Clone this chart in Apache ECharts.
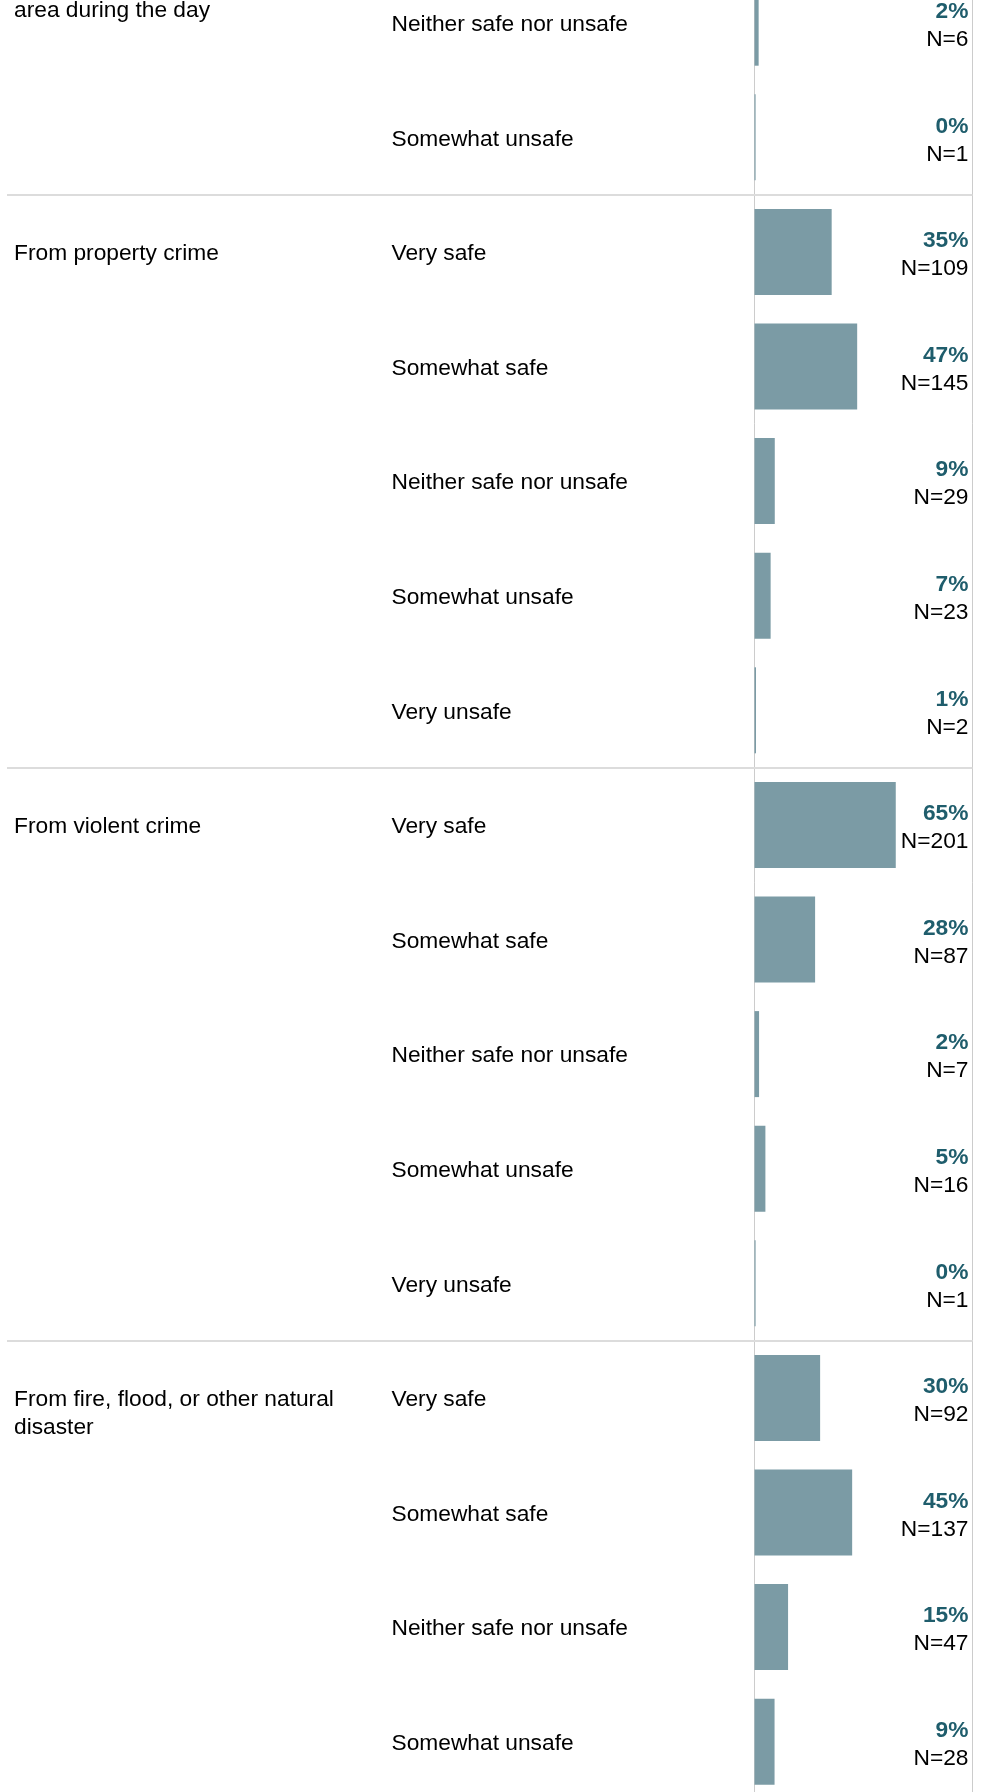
<!DOCTYPE html>
<html>
<head>
<meta charset="utf-8">
<script src="https://cdn.jsdelivr.net/npm/echarts@6/dist/echarts.min.js"></script>
<style>
html,body{margin:0;padding:0;background:#ffffff;overflow:hidden;width:987px;height:1792px;}
#chart{position:absolute;left:0;top:-35px;width:987px;height:1834px;}
</style>
</head>
<body>
<div id="chart"></div>
<script>
// Response rows (top to bottom, visible part of the chart)
const responses = [
  'Neither safe nor unsafe', 'Somewhat unsafe',
  'Very safe', 'Somewhat safe', 'Neither safe nor unsafe', 'Somewhat unsafe', 'Very unsafe',
  'Very safe', 'Somewhat safe', 'Neither safe nor unsafe', 'Somewhat unsafe', 'Very unsafe',
  'Very safe', 'Somewhat safe', 'Neither safe nor unsafe', 'Somewhat unsafe'
];
// Bar lengths (share of respondents, %)
const shares = [
  1.9, 0.5,
  35.4, 47.1, 9.3, 7.4, 0.7,
  64.8, 27.8, 2.1, 5.0, 0.5,
  30.1, 44.8, 15.4, 9.2
];
// Printed percentage labels
const pctLabels = [
  '2%', '0%',
  '35%', '47%', '9%', '7%', '1%',
  '65%', '28%', '2%', '5%', '0%',
  '30%', '45%', '15%', '9%'
];
// Printed counts
const counts = [
  6, 1,
  109, 145, 29, 23, 2,
  201, 87, 7, 16, 1,
  92, 137, 47, 28
];
// Group labels and the row on which each group starts
const groupNames = [
  'area during the day',
  'From property crime',
  'From violent crime',
  'From fire, flood, or other natural disaster'
];
const groupStartRows = [0, 2, 7, 12];
const groupContinued = [true, false, false, false]; // first group's label begins above the visible area

const FONT = '"Liberation Sans", Arial, Helvetica, sans-serif';
const FS = 22.75;
const LH = 28;
const TEXT_SHIFT = 2;
const BAR_COLOR = '#7b9ba5';
const PCT_COLOR = '#1f5d6c';
const TEXT_COLOR = '#000000';

const chart = echarts.init(document.getElementById('chart'), null, {renderer: 'canvas'});

const option = {
  animation: false,
  backgroundColor: '#ffffff',
  grid: {
    left: 754.5, right: 14.5, top: 0.4, bottom: 0,
    show: true, borderColor: '#cccccc', borderWidth: 1, backgroundColor: 'transparent'
  },
  xAxis: {
    type: 'value', min: 0, max: 100, show: false
  },
  yAxis: {
    type: 'category',
    inverse: true,
    data: responses,
    axisLine: {show: false},
    axisTick: {show: false},
    splitLine: {show: false},
    axisLabel: {
      margin: 363,
      align: 'left',
      formatter: function (v) { return '{t|' + v + '}'; },
      rich: {
        t: {
          fontSize: FS,
          fontFamily: FONT,
          color: TEXT_COLOR,
          lineHeight: LH,
          padding: [TEXT_SHIFT * 2, 0, 0, 0]
        }
      }
    }
  },
  series: [
    {
      type: 'bar',
      data: shares,
      barWidth: 86,
      silent: true,
      itemStyle: {color: BAR_COLOR},
      z: 3
    },
    {
      // group separators
      type: 'custom',
      silent: true,
      clip: false,
      z: 1,
      data: groupStartRows.map((r, i) => [0, r, groupContinued[i] ? 0 : 1]),
      encode: {x: 0, y: 1},
      renderItem: function (params, api) {
        if (api.value(2) === 0) return null;
        const row = api.value(1);
        const c = api.coord([0, row]);
        const h = api.size([0, 1])[1];
        const right = api.coord([100, row])[0];
        const y = Math.round(c[1] - h / 2);
        return {
          type: 'line',
          shape: {x1: 7, y1: y, x2: right, y2: y},
          style: {stroke: '#dcdcdc', lineWidth: 2}
        };
      }
    },
    {
      // group labels (left column)
      type: 'custom',
      silent: true,
      clip: false,
      z: 4,
      data: groupStartRows.map((r, i) => [0, r]),
      encode: {x: 0, y: 1},
      renderItem: function (params, api) {
        const i = params.dataIndex;
        const c = api.coord([0, api.value(1)]);
        const cont = groupContinued[i];
        return {
          type: 'text',
          x: 14,
          y: (cont ? c[1] : c[1] - LH / 2) + TEXT_SHIFT,
          style: {
            text: groupNames[i],
            fill: TEXT_COLOR,
            fontSize: FS,
            fontFamily: FONT,
            lineHeight: LH,
            align: 'left',
            verticalAlign: cont ? 'bottom' : 'top',
            width: 360,
            overflow: 'break'
          }
        };
      }
    },
    {
      // percentage and count labels (right)
      type: 'custom',
      silent: true,
      clip: false,
      z: 5,
      data: responses.map((r, i) => [100, i]),
      encode: {x: 0, y: 1},
      renderItem: function (params, api) {
        const i = params.dataIndex;
        const c = api.coord([100, api.value(1)]);
        return {
          type: 'text',
          x: c[0] - 4,
          y: c[1] + 1 + TEXT_SHIFT,
          style: {
            text: '{p|' + pctLabels[i] + '}\n{n|N=' + counts[i] + '}',
            align: 'right',
            verticalAlign: 'middle',
            rich: {
              p: {fontSize: FS, fontFamily: FONT, fontWeight: 'bold', fill: PCT_COLOR, color: PCT_COLOR, lineHeight: LH, align: 'right'},
              n: {fontSize: FS, fontFamily: FONT, fill: TEXT_COLOR, color: TEXT_COLOR, lineHeight: LH, align: 'right'}
            }
          }
        };
      }
    }
  ]
};

chart.setOption(option);
</script>
</body>
</html>
